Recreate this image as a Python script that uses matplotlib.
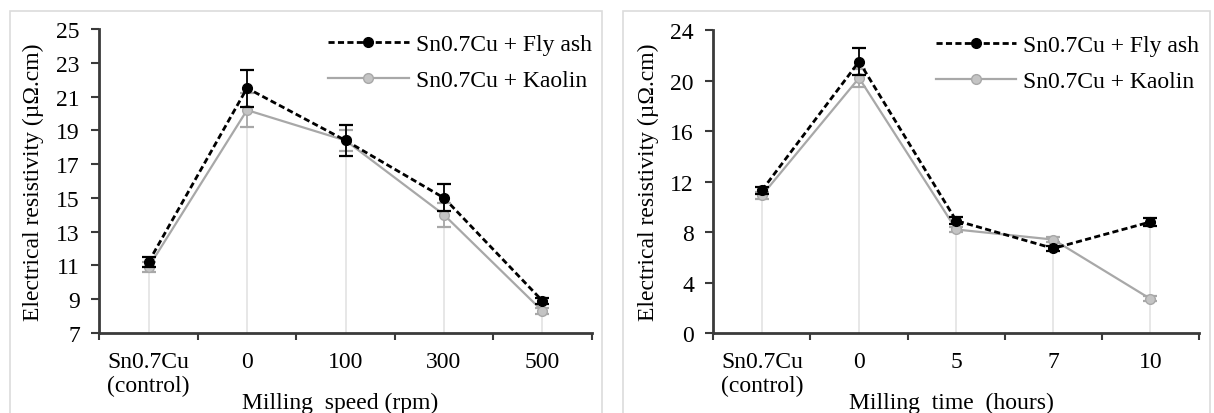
import numpy as np
import matplotlib
matplotlib.use("Agg")
from matplotlib import pyplot as plt
from matplotlib.patches import Rectangle

# ==========================
# Data
# ==========================
speed_labels = ["Sn0.7Cu\n(control)", "0", "100", "300", "500"]
speed_flyash = [11.2, 21.5, 18.4, 15.0, 8.9]
speed_flyash_err = [0.3, 1.1, 0.9, 0.8, 0.2]
speed_kaolin = [10.9, 20.2, 18.4, 14.0, 8.3]
speed_kaolin_err = [0.3, 1.0, 0.6, 0.7, 0.2]

time_labels = ["Sn0.7Cu\n(control)", "0", "5", "7", "10"]
time_flyash = [11.3, 21.5, 8.9, 6.7, 8.8]
time_flyash_err = [0.3, 1.1, 0.3, 0.2, 0.3]
time_kaolin = [10.9, 20.2, 8.2, 7.4, 2.7]
time_kaolin_err = [0.3, 0.7, 0.2, 0.2, 0.2]

series_names = ["Sn0.7Cu + Fly ash", "Sn0.7Cu + Kaolin"]
ylabel = "Electrical resistivity (µΩ.cm)"

plt.rcParams['font.family'] = ['Liberation Serif', 'DejaVu Serif']
plt.rcParams['font.size'] = 17

AXIS_COLOR = "#3a3a3a"
KAOLIN_COLOR = "#a8a8a8"
DROP_COLOR = "#e3e3e3"


def draw_panel(ax, labels, flyash, flyash_err, kaolin, kaolin_err, ylim, yticks, xlabel):
    x = np.arange(len(labels))
    tops = np.maximum(flyash, kaolin)
    # drop lines (Excel style)
    ax.vlines(x, ylim[0], tops, color=DROP_COLOR, lw=1.2, zorder=1)

    k = ax.errorbar(x, kaolin, yerr=kaolin_err, color=KAOLIN_COLOR, lw=1.6,
                    marker='o', ms=7, mfc="#c4c4c4", mec=KAOLIN_COLOR,
                    capsize=5, capthick=1.6, elinewidth=1.3, zorder=3)
    f = ax.errorbar(x, flyash, yerr=flyash_err, color="black", lw=2.0, ls=(0, (2.2, 1.2)),
                    marker='o', ms=7, mfc="black", mec="black",
                    capsize=5, capthick=1.6, elinewidth=1.3, zorder=4)

    ax.set_xlim(-0.5, len(labels) - 0.5)
    ax.set_ylim(*ylim)
    ax.set_yticks(yticks)
    ax.set_xticks(x, labels)
    ax.set_xticks(np.arange(-0.5, len(labels)), minor=True)
    ax.tick_params(axis='x', which='major', length=0, pad=13)
    ax.tick_params(axis='x', which='minor', length=5, width=1.5,
                   direction='out', color=AXIS_COLOR)
    ax.tick_params(axis='y', length=6, width=1.5, direction='out',
                   color=AXIS_COLOR, pad=8)

    for side in ['top', 'right']:
        ax.spines[side].set_visible(False)
    for side in ['left', 'bottom']:
        ax.spines[side].set_color(AXIS_COLOR)
        ax.spines[side].set_linewidth(2.0)

    ax.set_ylabel(ylabel)
    ax.yaxis.set_label_coords(-0.112, 0.5)
    ax.set_xlabel(xlabel)
    ax.xaxis.set_label_coords(0.49, -0.195)

    ax.legend([f[0], k[0]], series_names, loc='upper right',
              bbox_to_anchor=(1.0, 0.985), frameon=False,
              handlelength=3.4, handletextpad=0.3, labelspacing=0.6,
              borderpad=0.0, borderaxespad=0.0, fontsize=17)


fig = plt.figure(figsize=(12.14, 4.14), dpi=100)

# light gray panel frames
for x0, w in [(0.0082, 0.4877), (0.513, 0.4835)]:
    fig.patches.append(Rectangle((x0, -0.05), w, 1.05 - 12 / 414, transform=fig.transFigure,
                                 fill=False, ec="#dcdcdc", lw=1.2))

ax1 = fig.add_axes([0.0818, 0.1932, 0.4056, 0.7343])
ax2 = fig.add_axes([0.5876, 0.1932, 0.4001, 0.7319])

draw_panel(ax1, speed_labels, speed_flyash, speed_flyash_err, speed_kaolin, speed_kaolin_err,
           (7, 25), np.arange(7, 26, 2), "Milling  speed (rpm)")
draw_panel(ax2, time_labels, time_flyash, time_flyash_err, time_kaolin, time_kaolin_err,
           (0, 24), np.arange(0, 25, 4), "Milling  time  (hours)")

fig.savefig("out.png", dpi=100)
